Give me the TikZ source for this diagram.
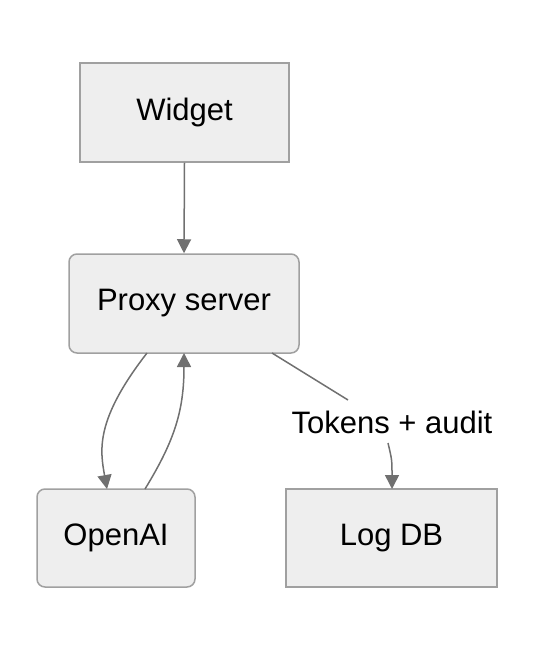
\documentclass[tikz,border=0pt]{standalone}
\usepackage{fontspec}
\setmainfont{Liberation Sans}
\usetikzlibrary{arrows.meta}
\definecolor{boxfill}{HTML}{EEEEEE}
\definecolor{boxline}{HTML}{A0A0A0}
\definecolor{edge}{HTML}{707070}
\tikzset{
  box/.style={draw=boxline, fill=boxfill, line width=1.5pt, inner sep=0pt, font=\fontsize{31}{35}\selectfont},
  rbox/.style={box, rounded corners=8pt},
  conn/.style={draw=edge, line width=1.5pt, -{Triangle[length=14pt,width=14pt]}},
  plain/.style={draw=edge, line width=1.5pt},
}
\begin{document}
\begin{tikzpicture}[x=1pt,y=-1pt]
\useasboundingbox (0,0) rectangle (534,652);
\node[box, minimum width=209pt, minimum height=99pt] (w) at (184.5,112.5) {Widget};
\node[rbox, minimum width=230pt, minimum height=99pt] (p) at (184,303.5) {Proxy server};
\node[rbox, minimum width=158pt, minimum height=98pt] (o) at (116,538) {OpenAI};
\node[box, minimum width=211pt, minimum height=98pt] (l) at (391.5,538) {Log DB};
\node[font=\fontsize{31}{35}\selectfont, inner sep=2pt] (t) at (392,422) {Tokens + audit};
\coordinate (pb1) at (147,353);
\coordinate (ob1) at (107,489);
\coordinate (ot1) at (145,489);
\coordinate (pb2) at (184,353);
\coordinate (pb3) at (272,353);
\coordinate (t1) at (348,400);
\coordinate (t2) at (388,443);
\coordinate (lt) at (392,489);
\draw[conn] (w.south) -- (p.north);
\draw[conn] (pb1) .. controls (95,420) and (100,450) .. (ob1);
\draw[conn] (ot1) .. controls (175,440) and (184,410) .. (pb2);
\draw[plain] (pb3) -- (t1);
\draw[conn] (t2) .. controls (392,460) .. (lt);
\end{tikzpicture}
\end{document}
